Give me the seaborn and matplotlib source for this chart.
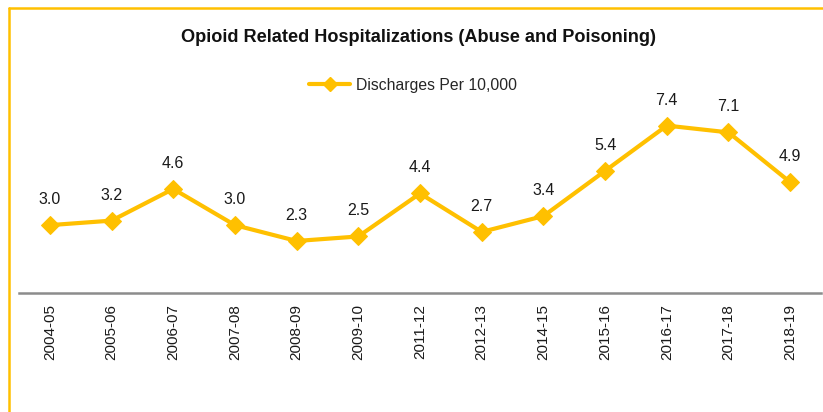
import matplotlib
matplotlib.use("Agg")
import matplotlib.pyplot as plt
import seaborn as sns
import pandas as pd
from matplotlib.lines import Line2D

years = ["2004-05", "2005-06", "2006-07", "2007-08", "2008-09", "2009-10", "2011-12",
         "2012-13", "2014-15", "2015-16", "2016-17", "2017-18", "2018-19"]
discharges = [3.0, 3.2, 4.6, 3.0, 2.3, 2.5, 4.4, 2.7, 3.4, 5.4, 7.4, 7.1, 4.9]
series_name = "Discharges Per 10,000"
title = "Opioid Related Hospitalizations (Abuse and Poisoning)"

sns.set_theme(style="white")
plt.rcParams['font.family'] = ['Liberation Sans', 'DejaVu Sans']

color = "#FFC000"
df = pd.DataFrame({"year": years, "value": discharges, "series": series_name})
df["x"] = range(len(years))

fig = plt.figure(figsize=(8.23, 4.12), dpi=100)
ax = fig.add_axes([0.0231, 0.2888, 0.9745, 0.4393])

sns.lineplot(data=df, x="x", y="value", ax=ax, color=color, linewidth=3,
             marker="D", markersize=9, markeredgecolor=color, legend=False)

for xi, v in zip(df["x"], df["value"]):
    ax.annotate(f"{v:.1f}", (xi, v), xytext=(0, 13), textcoords="offset points",
                ha="center", va="bottom", fontsize=11.5, color="#1a1a1a")

ax.set_xlim(-0.5, len(years) - 0.5)
ax.set_ylim(0, 8)
ax.set_xticks(df["x"])
ax.set_xticklabels(years, rotation=90, fontsize=11, color="#1a1a1a")
ax.set_yticks([])
ax.set_xlabel("")
ax.set_ylabel("")
for s in ["left", "right", "top"]:
    ax.spines[s].set_visible(False)
ax.spines["bottom"].set_color("#8c8c8c")
ax.spines["bottom"].set_linewidth(1.8)
ax.tick_params(axis="x", length=0, pad=8)

handle = Line2D([], [], color=color, linewidth=3, marker="D", markersize=7,
                markeredgecolor=color)
fig.legend([handle], [series_name], loc="center", bbox_to_anchor=(0.502, 0.793),
           frameon=False, fontsize=11.3, handlelength=2.6, handletextpad=0.4)

fig.text(0.508, 0.908, title, ha="center", va="center", fontsize=13.1,
         fontweight="bold", color="#111111")

# yellow border (left and top visible)
fig.add_artist(Line2D([9/823, 9/823], [0, 1 - 8/412], transform=fig.transFigure,
                      color=color, linewidth=1.8))
fig.add_artist(Line2D([9/823, 1], [1 - 8/412, 1 - 8/412], transform=fig.transFigure,
                      color=color, linewidth=1.8))

fig.savefig("out.png", dpi=100)
